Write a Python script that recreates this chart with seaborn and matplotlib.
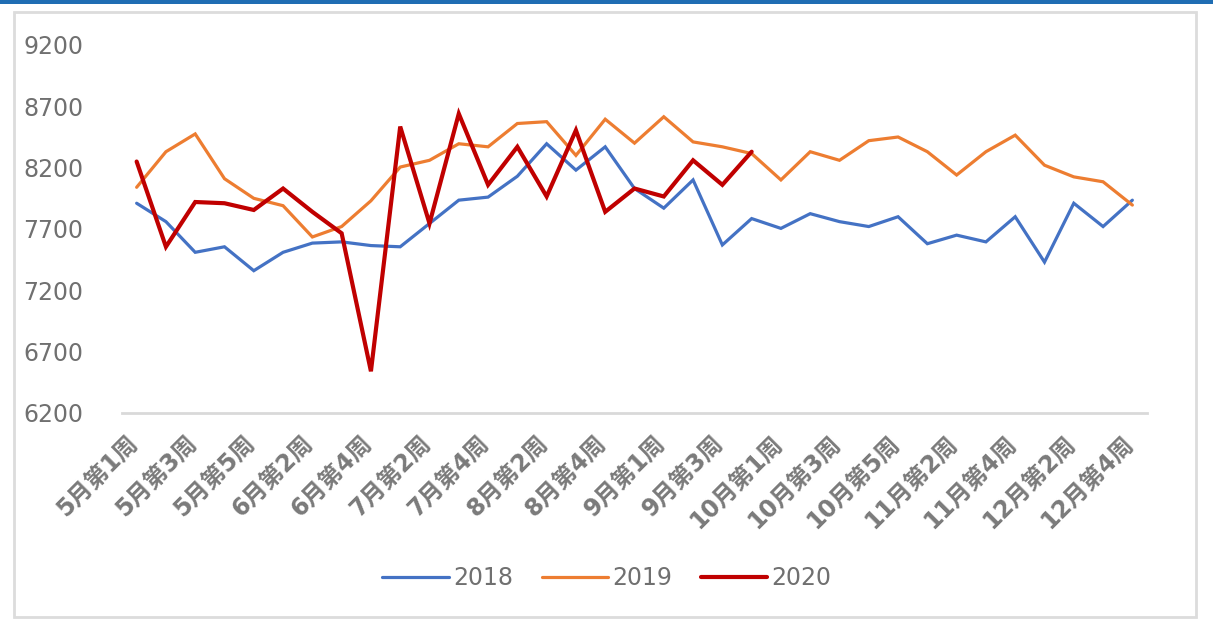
import numpy as np
import pandas as pd
import matplotlib
matplotlib.use("Agg")
import matplotlib.pyplot as plt
import matplotlib.transforms as mtransforms
from matplotlib.patches import Rectangle
from matplotlib.lines import Line2D
import seaborn as sns

# Weekly categories, May week 1 through December week 4
weeks = (
    [f"5月第{i}周" for i in range(1, 6)]
    + [f"6月第{i}周" for i in range(1, 5)]
    + [f"7月第{i}周" for i in range(1, 5)]
    + [f"8月第{i}周" for i in range(1, 6)]
    + [f"9月第{i}周" for i in range(1, 5)]
    + [f"10月第{i}周" for i in range(1, 6)]
    + [f"11月第{i}周" for i in range(1, 5)]
    + [f"12月第{i}周" for i in range(1, 5)]
)

y2018 = [7910, 7760, 7510, 7555, 7360, 7510, 7585, 7595, 7565, 7555,
         7745, 7935, 7960, 8130, 8395, 8180, 8370, 8030, 7870, 8100,
         7570, 7785, 7705, 7825, 7760, 7720, 7800, 7580, 7650, 7595,
         7800, 7430, 7910, 7720, 7935]
y2019 = [8040, 8330, 8475, 8110, 7950, 7890, 7635, 7720, 7930, 8205,
         8260, 8395, 8370, 8560, 8575, 8300, 8595, 8400, 8615, 8410,
         8370, 8315, 8100, 8330, 8260, 8420, 8450, 8330, 8140, 8330,
         8465, 8220, 8125, 8085, 7895]
y2020 = [8250, 7555, 7920, 7910, 7855, 8030, 7840, 7665, 6540, 8535,
         7745, 8640, 8060, 8370, 7965, 8505, 7840, 8030, 7965, 8260,
         8060, 8330]

series_names = ["2018", "2019", "2020"]
series_colors = ["#4472C4", "#ED7D31", "#C00000"]
series_widths = [2.3, 2.3, 3.0]
yticks = [6200, 6700, 7200, 7700, 8200, 8700, 9200]

frames = []
for name, vals in zip(series_names, [y2018, y2019, y2020]):
    frames.append(pd.DataFrame({"idx": np.arange(len(vals)), "value": vals, "year": name}))
df = pd.concat(frames, ignore_index=True)

sns.set_theme(style="white")
plt.rcParams["font.family"] = ["DejaVu Sans", "Noto Sans CJK SC"]

W, H = 1213, 619
fig = plt.figure(figsize=(W / 100, H / 100), dpi=100)
ax = fig.add_axes([122 / W, 1 - 413 / H, (1147 - 122) / W, (413 - 45) / H])

palette = dict(zip(series_names, series_colors))
sns.lineplot(data=df, x="idx", y="value", hue="year", palette=palette,
             ax=ax, legend=False, sort=False)
for line, lw in zip(ax.get_lines(), series_widths):
    line.set_linewidth(lw)
    line.set_solid_joinstyle("miter")

ax.set_xlim(-0.5, len(weeks) - 0.5)
ax.set_ylim(6200, 9200)
ax.set_yticks(yticks)
ax.set_yticklabels([str(v) for v in yticks])
ax.set_xticks(np.arange(0, len(weeks), 2))
ax.set_xticklabels(weeks[::2], rotation=45, ha="right", va="top",
                   rotation_mode="anchor", fontweight="bold")
ax.set_xlabel("")
ax.set_ylabel("")

text_color = "#707070"
ax.tick_params(axis="y", length=0, pad=28, labelsize=17, labelcolor=text_color)
ax.tick_params(axis="x", length=0, pad=13, labelsize=17, labelcolor="#7a7a7a")
for lab in ax.get_yticklabels():
    lab.set_horizontalalignment("right")

# nudge the slanted week labels a little to the left
shift = mtransforms.ScaledTranslation(-11 / 100, 0, fig.dpi_scale_trans)
for lab in ax.get_xticklabels():
    lab.set_transform(lab.get_transform() + shift)

for side in ["top", "right", "left"]:
    ax.spines[side].set_visible(False)
ax.spines["bottom"].set_color("#d9d9d9")
ax.spines["bottom"].set_linewidth(2)
ax.grid(False)

handles = [Line2D([0], [0], color=c, lw=lw) for c, lw in zip(series_colors, series_widths)]
fig.legend(handles, series_names, loc="center", bbox_to_anchor=(607 / W, 1 - 578 / H),
           ncol=3, frameon=False, fontsize=17, handlelength=2.8, handletextpad=0.2,
           columnspacing=1.2, labelcolor=text_color)

# Outer chart frame and top accent bar
fig.patches.append(Rectangle((14 / W, 1 - 617 / H), (1196 - 14) / W, (617 - 12) / H,
                             transform=fig.transFigure, fill=False,
                             edgecolor="#dcdcdc", lw=2))
fig.patches.append(Rectangle((0, 1 - 4 / H), 1, 4 / H, transform=fig.transFigure,
                             facecolor="#1f6db3", edgecolor="none"))

fig.savefig("out.png", dpi=100)
